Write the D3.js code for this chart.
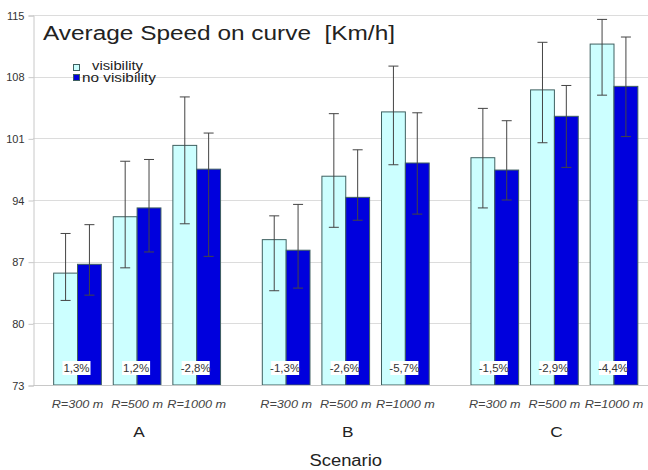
<!DOCTYPE html>
<html>
<head>
<meta charset="utf-8">
<script src="https://cdn.jsdelivr.net/npm/d3@7"></script>
<style>
  body { margin: 0; background: #fff; }
  svg { display: block; font-family: Arial, "Liberation Sans", sans-serif; }
</style>
</head>
<body>
<div id="chart"></div>
<script>
  // chart values
  var groups = ["A", "B", "C"];
  var radii = ["R=300 m", "R=500 m", "R=1000 m"];
  var visibility = [85.7, 92.1, 100.2, 89.5, 96.7, 104.0, 98.8, 106.5, 111.7];
  var visLow = [82.6, 86.3, 91.3, 83.7, 90.9, 98.0, 93.1, 100.5, 105.9];
  var visHigh = [90.2, 98.4, 105.7, 92.2, 103.8, 109.2, 104.4, 111.9, 114.5];
  var noVisibility = [86.7, 93.1, 97.5, 88.3, 94.3, 98.2, 97.4, 103.5, 106.9];
  var noVisLow = [83.2, 88.1, 87.6, 84.0, 91.7, 92.4, 94.0, 97.7, 101.2];
  var noVisHigh = [91.2, 98.6, 101.6, 93.5, 99.7, 103.9, 103.0, 107.0, 112.5];
  var diffLabels = ["1,3%", "1,2%", "-2,8%", "-1,3%", "-2,6%", "-5,7%", "-1,5%", "-2,9%", "-4,4%"];
  var yTicks = [73, 80, 87, 94, 101, 108, 115];
  var seriesNames = ["visibility", "no visibility"];

(function() {
  var width = 648, height = 470;
  var plotLeft = 33, plotTop = 15, plotBottom = 385;
  var colors = { "visibility": "#ccffff", "no visibility": "#0000dd" };
  // the original picture is a little stretched sideways
  var stretch = 1.15;

  var svg = d3.select("#chart").append("svg")
    .attr("width", width)
    .attr("height", height);

  var y = d3.scaleLinear().domain([73, 115]).range([plotBottom, plotTop]);

  var x0 = d3.scaleBand().domain(groups).range([47.7, 643.8]).paddingInner(0.143).paddingOuter(0);
  var x1 = d3.scaleBand().domain(radii).range([0, x0.bandwidth()]).paddingInner(0.2).paddingOuter(0.1);
  var x2 = d3.scaleBand().domain(seriesNames).range([0, x1.bandwidth()]);

  // stretch a text sideways around its anchor
  function widen(sel) {
    sel.each(function() {
      var w = this.getComputedTextLength();
      d3.select(this).attr("textLength", w * stretch).attr("lengthAdjust", "spacingAndGlyphs");
    });
  }

  // build rows
  var rows = [];
  groups.forEach(function(g, gi) {
    radii.forEach(function(r, ri) {
      var i = gi * radii.length + ri;
      rows.push({
        group: g, radius: r, diff: diffLabels[i],
        bars: [
          { series: "visibility", value: visibility[i], low: visLow[i], high: visHigh[i] },
          { series: "no visibility", value: noVisibility[i], low: noVisLow[i], high: noVisHigh[i] }
        ]
      });
    });
  });

  // grid lines
  svg.append("g")
    .selectAll("line")
    .data(yTicks)
    .enter().append("line")
    .attr("x1", plotLeft).attr("x2", width)
    .attr("y1", function(d) { return Math.round(y(d)) + 0.5; })
    .attr("y2", function(d) { return Math.round(y(d)) + 0.5; })
    .attr("stroke", "#dcdcdc");

  // y axis
  var yAxis = svg.append("g")
    .attr("transform", "translate(" + (plotLeft + 0.5) + ",0.5)")
    .call(d3.axisLeft(y).tickValues(yTicks).tickSize(5).tickPadding(4));
  yAxis.select(".domain").attr("stroke", "#c8c8c8");
  yAxis.selectAll(".tick line").attr("stroke", "#c8c8c8");
  yAxis.selectAll(".tick text").attr("fill", "#333").style("font-size", "11px");

  // bars
  var groupSel = svg.append("g").selectAll("g")
    .data(rows)
    .enter().append("g")
    .attr("transform", function(d) { return "translate(" + (x0(d.group) + x1(d.radius)) + ",0)"; });

  groupSel.selectAll("rect")
    .data(function(d) { return d.bars; })
    .enter().append("rect")
    .attr("x", function(d) { return x2(d.series); })
    .attr("y", function(d) { return y(d.value); })
    .attr("width", x2.bandwidth())
    .attr("height", function(d) { return y(73) - y(d.value); })
    .attr("fill", function(d) { return colors[d.series]; })
    .attr("stroke", "#3f6060")
    .attr("stroke-width", 1);

  // error bars
  var err = groupSel.selectAll("g.err")
    .data(function(d) { return d.bars; })
    .enter().append("g")
    .attr("class", "err")
    .attr("stroke", "#444")
    .attr("stroke-width", 1);

  function cx(d) { return x2(d.series) + x2.bandwidth() / 2; }

  err.append("line")
    .attr("x1", cx).attr("x2", cx)
    .attr("y1", function(d) { return y(d.low); })
    .attr("y2", function(d) { return y(d.high); });
  err.append("line")
    .attr("x1", function(d) { return cx(d) - 5; }).attr("x2", function(d) { return cx(d) + 5; })
    .attr("y1", function(d) { return y(d.high); })
    .attr("y2", function(d) { return y(d.high); });
  err.append("line")
    .attr("x1", function(d) { return cx(d) - 5; }).attr("x2", function(d) { return cx(d) + 5; })
    .attr("y1", function(d) { return y(d.low); })
    .attr("y2", function(d) { return y(d.low); });

  // difference labels
  groupSel.append("rect")
    .attr("x", x2("no visibility") - 15)
    .attr("y", 361)
    .attr("width", 28)
    .attr("height", 14)
    .attr("fill", "#fff");
  groupSel.append("text")
    .attr("x", x2("no visibility") - 1)
    .attr("y", 372)
    .attr("text-anchor", "middle")
    .attr("fill", "#333")
    .style("font-size", "10px")
    .text(function(d) { return d.diff; })
    .call(widen);

  // bottom axis line
  svg.append("line")
    .attr("x1", plotLeft).attr("x2", width)
    .attr("y1", Math.round(y(73)) + 0.5).attr("y2", Math.round(y(73)) + 0.5)
    .attr("stroke", "#c8c8c8");

  // radius labels
  groupSel.append("text")
    .attr("x", x1.bandwidth() / 2)
    .attr("y", 408)
    .attr("text-anchor", "middle")
    .attr("fill", "#444")
    .style("font-size", "11px")
    .style("font-style", "italic")
    .text(function(d) { return d.radius; })
    .call(widen);

  // group labels
  svg.append("g").selectAll("text")
    .data(groups)
    .enter().append("text")
    .attr("x", function(d) { return x0(d) + x0.bandwidth() / 2 + 2; })
    .attr("y", 437)
    .attr("text-anchor", "middle")
    .attr("fill", "#222")
    .style("font-size", "15px")
    .text(function(d) { return d; })
    .call(widen);

  svg.append("text")
    .attr("x", (x0.range()[0] + x0.range()[1]) / 2)
    .attr("y", 466)
    .attr("text-anchor", "middle")
    .attr("fill", "#222")
    .style("font-size", "16px")
    .text("Scenario")
    .call(widen);

  // title
  svg.append("text")
    .attr("x", 43)
    .attr("y", 40)
    .attr("fill", "#222")
    .style("font-size", "20px")
    .style("white-space", "pre")
    .text("Average Speed on curve  [Km/h]")
    .attr("textLength", 352)
    .attr("lengthAdjust", "spacingAndGlyphs");

  // legend
  var legend = svg.append("g");
  seriesNames.forEach(function(s, i) {
    legend.append("rect")
      .attr("x", 73.5).attr("y", 64.5 + i * 10)
      .attr("width", 6).attr("height", 6)
      .attr("fill", colors[s])
      .attr("stroke", "#3f6060");
    legend.append("text")
      .attr("x", i === 0 ? 92 : 82)
      .attr("y", 70 + i * 11.5)
      .attr("fill", "#222")
      .style("font-size", "12px")
      .text(s)
      .attr("textLength", i === 0 ? 51 : 74)
      .attr("lengthAdjust", "spacingAndGlyphs");
  });
}());
</script>
</body>
</html>
